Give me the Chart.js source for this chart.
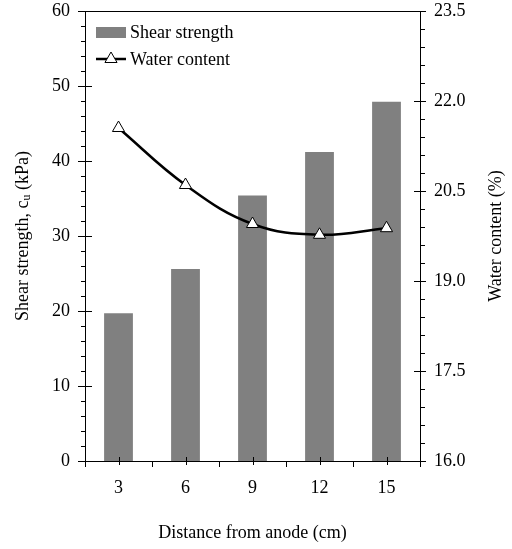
<!DOCTYPE html>
<html lang="en">
    <head>
        <meta charset="UTF-8" />
        <title>Shear strength and water content</title>
        <script src="https://cdn.jsdelivr.net/npm/chart.js"></script>
        <style>
            body { margin: 0; background: #fff; }
            canvas { display: block; }
        </style>
    </head>
    <body>
        <canvas id="chart" width="512" height="549"></canvas>
        <script>
            // values
            const distances = [3, 6, 9, 12, 15];
            const shearStrength = [19.7, 25.6, 35.4, 41.2, 47.9];
            const waterContent = [21.55, 20.6, 19.95, 19.77, 19.88];
            const leftTicks = [0, 10, 20, 30, 40, 50, 60];
            const rightTicks = [16.0, 17.5, 19.0, 20.5, 22.0, 23.5];

            const FONT = '"Liberation Serif", "Times New Roman", serif';

            // axis frame, Excel-style tick marks, titles and legend
            const decorations = {
                id: "decorations",
                afterDraw(chart) {
                    const { ctx, chartArea: a } = chart;
                    const { x, y, y2 } = chart.scales;
                    const px = (v) => Math.round(v) + 0.5;
                    ctx.save();
                    ctx.strokeStyle = "#000";
                    ctx.lineWidth = 1;
                    ctx.strokeRect(px(a.left), px(a.top), Math.round(a.right) - Math.round(a.left), Math.round(a.bottom) - Math.round(a.top));

                    ctx.beginPath();
                    // left axis: majors cross, minors outside
                    for (let v = 0; v <= 60; v += 2) {
                        const yy = px(y.getPixelForValue(v));
                        if (v % 10 === 0) {
                            ctx.moveTo(a.left - 7, yy);
                            ctx.lineTo(a.left + 7, yy);
                        } else {
                            ctx.moveTo(a.left - 4, yy);
                            ctx.lineTo(a.left, yy);
                        }
                    }
                    // right axis
                    for (let i = 0; i <= 25; i++) {
                        const v = 16 + i * 0.3;
                        const yy = px(y2.getPixelForValue(v));
                        if (i % 5 === 0) {
                            ctx.moveTo(a.right - 6, yy);
                            ctx.lineTo(a.right + 6, yy);
                        } else {
                            ctx.moveTo(a.right, yy);
                            ctx.lineTo(a.right + 5, yy);
                        }
                    }
                    // bottom axis: category ticks cross, boundaries hang down
                    for (let i = 0; i <= 10; i++) {
                        const v = 1.5 + i * 1.5;
                        const xx = px(x.getPixelForValue(v));
                        if (i % 2 === 1) {
                            ctx.moveTo(xx, a.bottom - 4);
                            ctx.lineTo(xx, a.bottom + 4);
                        } else {
                            ctx.moveTo(xx, a.bottom);
                            ctx.lineTo(xx, a.bottom + 6);
                        }
                    }
                    ctx.stroke();

                    // titles
                    ctx.fillStyle = "#000";
                    ctx.textBaseline = "middle";
                    ctx.textAlign = "center";
                    ctx.font = "18px " + FONT;
                    ctx.fillText("Distance from anode (cm)", (a.left + a.right) / 2, 533);

                    const midY = (a.top + a.bottom) / 2;
                    ctx.save();
                    ctx.translate(496, midY);
                    ctx.rotate(-Math.PI / 2);
                    ctx.fillText("Water content (%)", 0, 0);
                    ctx.restore();

                    // left title with subscript u
                    ctx.save();
                    ctx.translate(23, midY);
                    ctx.rotate(-Math.PI / 2);
                    ctx.textAlign = "left";
                    const p1 = "Shear strength, c";
                    const p2 = "u";
                    const p3 = " (kPa)";
                    ctx.font = "18px " + FONT;
                    const w1 = ctx.measureText(p1).width;
                    const w3 = ctx.measureText(p3).width;
                    ctx.font = "12px " + FONT;
                    const w2 = ctx.measureText(p2).width;
                    let sx = -(w1 + w2 + w3) / 2;
                    ctx.font = "18px " + FONT;
                    ctx.fillText(p1, sx, 0);
                    ctx.font = "12px " + FONT;
                    ctx.fillText(p2, sx + w1, 4);
                    ctx.font = "18px " + FONT;
                    ctx.fillText(p3, sx + w1 + w2, 0);
                    ctx.restore();

                    // legend
                    const ds = chart.data.datasets;
                    ctx.fillStyle = "#808080";
                    ctx.fillRect(96, 27, 30, 11);
                    ctx.strokeStyle = "#000";
                    ctx.lineWidth = 2.5;
                    ctx.beginPath();
                    ctx.moveTo(96, 59);
                    ctx.lineTo(126, 59);
                    ctx.stroke();
                    ctx.fillStyle = "#fff";
                    ctx.lineWidth = 1;
                    Chart.helpers.drawPoint(ctx, { pointStyle: "triangle", radius: 7, borderWidth: 1, rotation: 0 }, 111, 59);
                    ctx.fillStyle = "#000";
                    ctx.textAlign = "left";
                    ctx.font = "18px " + FONT;
                    ctx.fillText(ds[1].label, 130, 33);
                    ctx.fillText(ds[0].label, 130, 60);
                    ctx.restore();
                },
            };

            const noPad = (s) => {
                s.paddingTop = 0;
                s.paddingBottom = 0;
                s.paddingLeft = 0;
                s.paddingRight = 0;
            };

            new Chart(document.getElementById("chart"), {
                type: "bar",
                data: {
                    datasets: [
                        {
                            type: "line",
                            label: "Water content",
                            data: distances.map((d, i) => ({ x: d, y: waterContent[i] })),
                            yAxisID: "y2",
                            borderColor: "#000",
                            borderWidth: 2.5,
                            tension: 0.4,
                            pointStyle: "triangle",
                            pointRadius: 7,
                            pointBackgroundColor: "#fff",
                            pointBorderColor: "#000",
                            pointBorderWidth: 1,
                            order: 0,
                        },
                        {
                            label: "Shear strength",
                            data: distances.map((d, i) => ({ x: d, y: shearStrength[i] })),
                            yAxisID: "y",
                            backgroundColor: "#808080",
                            borderWidth: 0,
                            barPercentage: 0.43,
                            categoryPercentage: 1,
                            order: 1,
                        },
                    ],
                },
                options: {
                    responsive: false,
                    animation: false,
                    layout: { padding: { top: 11, left: 0, right: 0, bottom: 0 } },
                    plugins: { legend: { display: false }, tooltip: { enabled: false } },
                    scales: {
                        x: {
                            type: "linear",
                            position: "bottom",
                            min: 1.5,
                            max: 16.5,
                            offset: false,
                            grid: { display: false, drawTicks: false },
                            border: { display: false },
                            afterBuildTicks: (s) => { s.ticks = distances.map((v) => ({ value: v })); },
                            afterFit: (s) => { s.height = 88; noPad(s); },
                            ticks: { color: "#000", font: { family: FONT, size: 18 }, padding: 16, maxRotation: 0 },
                        },
                        y: {
                            position: "left",
                            min: 0,
                            max: 60,
                            grid: { display: false, drawTicks: false },
                            border: { display: false },
                            afterBuildTicks: (s) => { s.ticks = leftTicks.map((v) => ({ value: v })); },
                            afterFit: (s) => { s.width = 85; noPad(s); },
                            ticks: { color: "#000", font: { family: FONT, size: 18 }, padding: 15 },
                        },
                        y2: {
                            position: "right",
                            min: 16,
                            max: 23.5,
                            grid: { display: false, drawTicks: false },
                            border: { display: false },
                            afterBuildTicks: (s) => { s.ticks = rightTicks.map((v) => ({ value: v })); },
                            afterFit: (s) => { s.width = 92; noPad(s); },
                            ticks: { color: "#000", font: { family: FONT, size: 18 }, padding: 14, callback: (v) => Number(v).toFixed(1) },
                        },
                    },
                },
                plugins: [decorations],
            });
        </script>
    </body>
</html>
